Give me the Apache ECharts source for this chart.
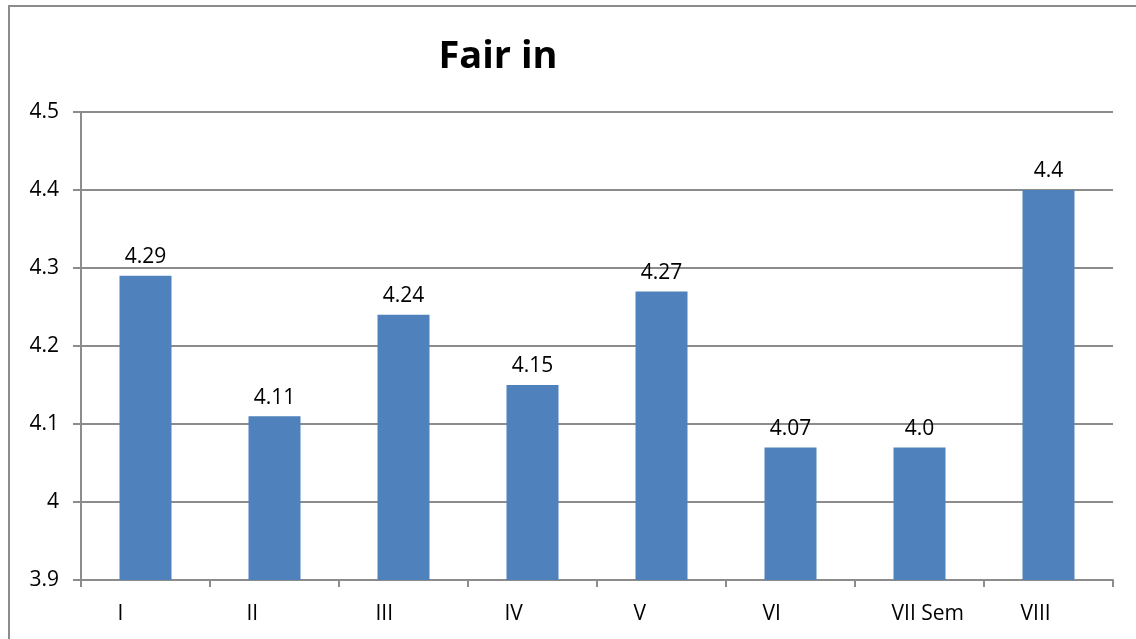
<!DOCTYPE html>
<html>
<head>
<meta charset="utf-8">
<style>
html, body {
  margin: 0;
  padding: 0;
  background: #fff;
}
#chart {
  width: 1136px;
  height: 639px;
}
</style>
<script src="https://cdn.jsdelivr.net/npm/echarts@6/dist/echarts.min.js"></script>
</head>
<body>
<div id="chart"></div>
<script>
// semesters and their scores
const categories = ['I', 'II', 'III', 'IV', 'V', 'VI', 'VII Sem', 'VIII']
const scores = [4.29, 4.11, 4.24, 4.15, 4.27, 4.07, 4.07, 4.4]
// labels shown above the bars (as printed in the original)
const barLabels = ['4.29', '4.11', '4.24', '4.15', '4.27', '4.07', '4.0', '4.4']

const font = '"Open Sans", "Noto Sans", sans-serif'
const gray = '#8c8c8c'

const chart = echarts.init(document.getElementById('chart'))

const option = {
  animation: false,
  backgroundColor: '#fff',
  title: {
    text: 'Fair in',
    left: 493,
    top: 33,
    textAlign: 'center',
    textStyle: {
      fontFamily: font,
      fontSize: 38,
      fontWeight: 'bold',
      color: '#000'
    }
  },
  graphic: [{
    type: 'rect',
    shape: { x: 9, y: 6, width: 1150, height: 660 },
    style: { fill: 'none', stroke: gray, lineWidth: 2 },
    silent: true
  }],
  grid: {
    left: 81,
    right: 23,
    top: 112,
    bottom: 59
  },
  xAxis: {
    type: 'category',
    data: categories,
    axisLine: { lineStyle: { color: gray, width: 2 } },
    axisTick: { show: true, length: 7, lineStyle: { color: gray, width: 2 } },
    axisLabel: {
      color: '#000',
      fontFamily: font,
      fontSize: 21,
      margin: 24,
      align: 'left',
      padding: [0, 0, 0, -28]
    }
  },
  yAxis: {
    type: 'value',
    min: 3.9,
    max: 4.5,
    interval: 0.1,
    axisLine: { show: true, lineStyle: { color: gray, width: 2 } },
    axisTick: { show: true, length: 8, lineStyle: { color: gray, width: 2 } },
    splitLine: { lineStyle: { color: gray, width: 2 } },
    axisLabel: {
      color: '#000',
      fontFamily: font,
      fontSize: 21,
      margin: 22,
      formatter: v => {
        const r = Math.round(v * 10) / 10
        return r === 4 ? '4' : r.toFixed(1)
      }
    }
  },
  series: [{
    type: 'bar',
    data: scores,
    barWidth: 52,
    itemStyle: { color: '#4f81bd' },
    label: {
      show: true,
      position: 'top',
      distance: 8,
      color: '#000',
      fontFamily: font,
      fontSize: 21,
      formatter: p => barLabels[p.dataIndex]
    }
  }]
}

chart.setOption(option)
</script>
</body>
</html>
